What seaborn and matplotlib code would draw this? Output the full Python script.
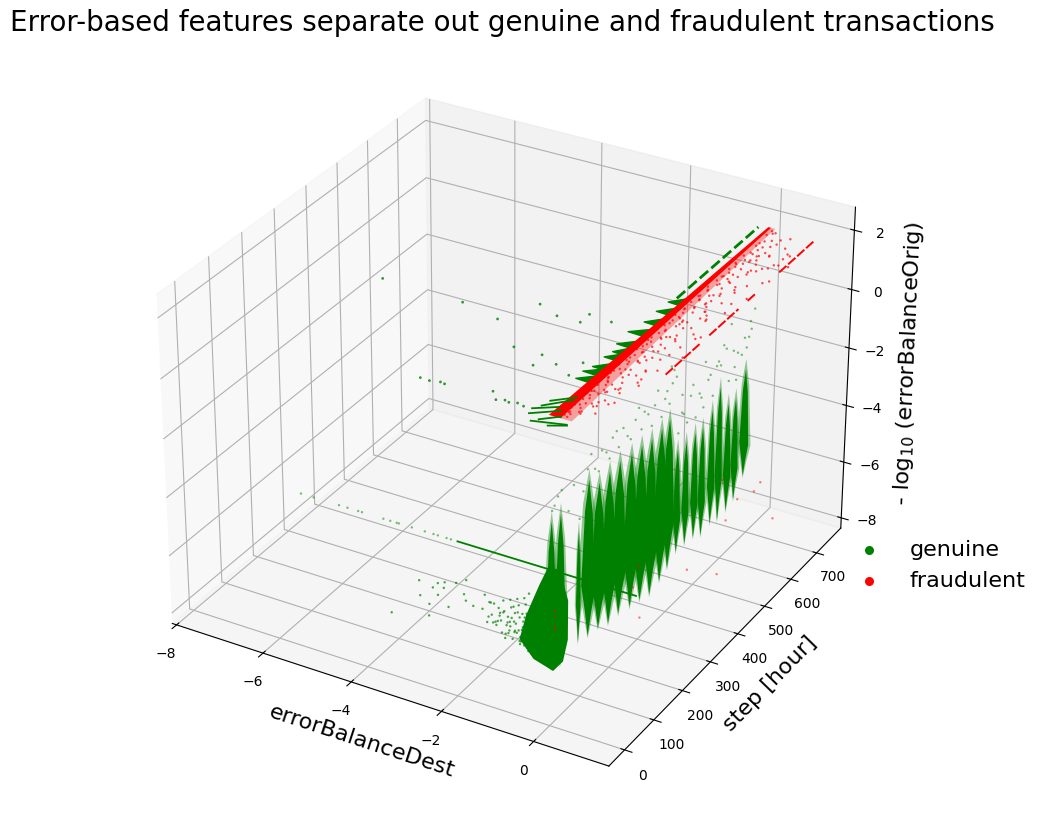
#=====IMPORT LIBRARIES=====
import matplotlib
matplotlib.use('Agg')
import matplotlib.pyplot as plt
from mpl_toolkits.mplot3d.art3d import Poly3DCollection
import seaborn as sns

#=====DATA=====
# daily spikes of genuine transactions
spike_steps = [11, 41, 101, 134, 169, 204, 239, 279, 314, 349, 384, 412, 443, 474, 506, 534, 568, 596, 628, 656, 691]
spike_low = [-6.56, -6.72, -6.54, -6.64, -6.7, -6.9, -6.9, -7.05, -7.15, -7.3, -7.15, -6.97, -6.7, -6.7, -6.77, -6.96, -6.85, -7.0, -6.95, -6.8, -6.28]
spike_mid = [-5.0, -5.1, -5.3, -5.0, -5.15, -5.25, -5.25, -5.35, -5.45, -5.6, -5.45, -5.3, -5.55, -5.55, -5.6, -5.75, -5.6, -5.5, -5.75, -5.65, -5.15]
spike_high = [-1.64, -1.65, -2.8, -1.39, -1.8, -1.75, -1.72, -1.82, -1.86, -1.95, -1.92, -1.84, -3.15, -3.17, -3.14, -3.2, -2.9, -2.36, -3.2, -3.26, -2.54]
spike_width = [0.11, 0.11, 0.05, 0.15, 0.16, 0.16, 0.16, 0.16, 0.16, 0.15, 0.15, 0.13, 0.08, 0.08, 0.08, 0.08, 0.08, 0.08, 0.08, 0.08, 0.1]
spike_x = -0.05

# outline of the wide foot of the first two spikes
foot_step = 15
foot_x = [-0.03, -0.45, -0.75, -0.61, -0.33, -0.14, 0.1, 0.28, 0.28, 0.18]
foot_z = [-6.66, -6.46, -5.93, -5.05, -3.9, -3.2, -3.2, -4.13, -5.44, -6.23]

# green tips above the spikes
tip_steps = [20, 31, 43, 12, 103, 129, 140, 166, 176, 202, 212, 233, 248, 274, 290, 311, 321, 347, 357, 381, 393, 409, 419, 424, 414, 443, 455, 474, 486, 505, 518, 533, 549, 567, 580, 595, 605, 626, 642, 654, 673, 691, 699, 704, 455, 538, 631, 66, 83, 115, 153, 191, 225, 263, 301, 334, 367, 400, 433, 461, 494, 525, 557, 587, 615, 647, 683, 708, 719, 658]
tip_z = [-1.2, -1.0, -0.9, -1.3, -2.4, -1.0, -0.6, -1.4, -0.8, -1.3, -0.7, -1.2, -0.7, -1.3, -0.8, -1.3, -0.8, -1.5, -0.9, -1.5, -1.0, -1.3, -0.7, -0.3, -0.1, -2.6, -2.0, -2.5, -1.7, -2.6, -1.9, -2.5, -1.7, -2.4, -1.5, -1.6, -1.0, -2.4, -1.5, -2.6, -1.9, -1.8, -1.5, -1.0, -1.4, -1.0, -0.5, -1.8, -1.1, -1.6, -1.2, -1.0, -0.6, -1.1, -0.5, -1.0, -0.5, -0.8, -0.6, -2.1, -1.4, -2.1, -1.6, -1.4, -1.2, -2.1, -1.4, -1.3, -0.7, -1.7]

# green cloud on the floor left of the first spike
cloud_x = [-1.35, -1.3, -1.25, -1.2, -1.15, -1.1, -1.05, -1.0, -0.95, -0.95, -0.9, -0.85, -0.85, -0.8, -0.75, -0.75, -0.7, -0.65, -0.65, -0.6, -0.55, -0.55, -0.5, -0.45, -0.45, -0.4, -0.35, -0.3, -1.55, -1.5, -1.45, -1.4, -1.1, -1.03, -0.87, -0.77, -0.67, -0.58, -0.43, -2.93, -2.91, -2.63, -2.52, -2.37, -2.12, -1.9, -2.52, -2.39, -1.95, -1.91, -1.75, -2.29, -2.71, -2.72, -3.55, -1.17, -0.97, -0.93, -0.83, -0.73, -0.63, -0.53, -0.47, -0.37, -0.33, -0.77, -0.69, -0.61, -0.51, -0.41, -1.27, -1.13, -1.01, -1.22, -1.08, -0.99, -0.92, -0.88, -0.81, -0.79, -0.72, -0.68, -0.62, -0.59, -0.54, -0.49, -0.46, -0.42, -0.38, -1.32, -1.18, -1.06, -0.96, -0.86, -0.74, -0.64, -0.56, -1.42, -1.37]
cloud_z = [-5.4, -5.0, -5.7, -5.1, -5.5, -4.8, -5.9, -5.3, -5.6, -4.7, -6.0, -5.1, -5.7, -4.6, -6.0, -5.2, -5.6, -4.5, -6.1, -5.0, -5.7, -4.3, -6.2, -5.1, -5.8, -4.4, -6.3, -5.4, -5.3, -4.8, -5.7, -5.0, -5.2, -5.6, -5.4, -4.8, -5.3, -5.9, -5.6, -5.0, -5.5, -5.1, -4.9, -4.8, -4.7, -4.5, -5.3, -5.0, -5.0, -5.2, -5.3, -5.6, -5.7, -6.1, -6.4, -5.25, -5.75, -4.95, -5.45, -5.85, -5.55, -5.95, -4.85, -6.05, -4.75, -5.65, -5.05, -5.8, -5.35, -6.15, -5.6, -5.9, -5.5, -5.55, -5.15, -5.85, -5.3, -4.9, -5.75, -5.05, -6.0, -5.5, -4.7, -6.15, -5.25, -5.95, -4.6, -5.6, -6.2, -5.65, -5.35, -6.05, -5.45, -5.75, -6.1, -5.15, -6.25, -5.5, -5.0]

# thin trail at a single step
trail_step = 310
trail_z = -7.0
trail_x = [-7.75, -7.45, -6.85, -6.65, -6.4, -6.31, -5.81, -5.65, -5.5, -5.45, -5.15, -4.85, -4.65, -4.55, -4.35, -4.25]
trail_from = -4.1
trail_to = -0.1

# green points near the top plane
upper_x = [-3.55, -2.65, -1.85, -2.25, -1.75, -1.25, -1.25, -0.75, -1.25, -1.2, -0.85, -0.45, -0.45, -2.75, -2.55, -2.35, -2.25, -5.35, -1.35, -1.15, -1.0, -0.9, -0.75, -0.6]
upper_steps = [252, 231, 163, 310, 289, 320, 289, 315, 163, 126, 147, 173, 126, 1, 0, 5, 3, 257, 21, 0, 6, 3, 8, 4]

# blobs beside the fraud band
blob_x = [-0.3, -0.32, -0.25, -0.24, -0.28, -0.32, -0.24, -0.24, -0.22, -0.2]
blob_steps = [124, 150, 171, 208, 256, 301, 343, 385, 423, 230]

# strokes at the start of the band
stroke_x0 = [-0.33, -0.39, -0.23, -0.28, -0.43, 0.12, -0.13]
stroke_x1 = [0.07, 0.07, 0.4, 0.07, -0.03, 0.42, 0.17]
stroke_s0 = [20, -11, -30, 40, 5, -30, -20]
stroke_s1 = [60, 21, -13, 70, 30, -15, 5]

# dashed green line
dash_x = -0.13
dash_from = 440
dash_to = 735

# fraud band on the plane of the top tick
fraud_x = 0.07
fraud_top = 1.9
step_start = 0
step_end = 743
second_line_x = 1.07
second_line_from = [205, 355, 491, 606]
second_line_to = [321, 458, 522, 735]

fraud_offset = [0.08, 0.12, 0.2, 0.15, 0.3, 0.1, 0.25, 0.18, 0.42, 0.35, 0.13, 0.22, 0.5, 0.09, 0.28, 0.16, 0.38, 0.6, 0.11, 0.24, 0.33, 0.19, 0.46, 0.14, 0.7, 0.1, 0.27, 0.55, 0.17, 0.36, 0.08, 0.21, 0.8, 0.12, 0.31, 0.44, 0.16, 0.65, 0.23, 0.09, 0.39, 0.13, 0.29, 0.52, 0.18, 0.75, 0.11, 0.26, 0.34, 0.15, 0.48, 0.2, 0.9, 0.1, 0.3, 0.58, 0.14, 0.41, 0.22, 0.08, 0.68, 0.17, 0.32, 0.12, 0.5, 0.25, 0.85, 0.1, 0.37, 0.19, 0.62, 0.13, 0.28, 0.45, 0.16, 0.95, 0.09, 0.35, 0.21, 0.55, 0.12, 0.72, 0.27, 0.15, 0.4, 0.18, 1.0, 0.11, 0.31, 0.6, 0.14, 0.24, 0.47, 0.2, 0.78, 0.1, 0.33, 0.16, 0.53, 0.23, 0.88, 0.12, 0.38, 0.66, 0.18, 0.29, 0.43, 0.09, 0.57, 0.21, 1.05, 0.13, 0.36, 0.74, 0.17, 0.26, 0.5, 0.11, 0.82, 0.3, 0.2, 0.14, 0.33, 0.1, 0.25, 0.43, 0.17, 0.12, 0.3, 0.52, 0.22, 0.15, 0.37, 0.11, 0.27, 0.61, 0.19, 0.13, 0.35, 0.24, 0.47, 0.16, 0.1, 0.29, 0.4, 0.21, 0.73, 0.14, 0.32, 0.18, 0.55, 0.12, 0.26, 0.44, 0.2, 0.11, 0.34, 0.15, 0.64, 0.23, 0.38, 0.13, 0.28, 0.5, 0.17, 0.1, 0.31, 0.86, 0.22, 0.41, 0.58, 0.47, 0.69, 0.36, 0.53, 0.77, 0.42, 0.63, 0.33, 0.49, 0.71, 0.39, 0.56, 0.84, 0.45, 0.31, 0.67, 0.51, 0.37, 0.79, 0.43, 0.59, 0.34, 0.92, 0.48, 0.65, 0.4, 0.54, 0.81, 0.44, 0.35, 0.62, 0.46, 0.7, 0.38, 0.97, 0.52, 0.32, 0.6, 0.41]
fraud_step = [5, 13, 19, 26, 32, 38, 44, 53, 58, 65, 71, 78, 84, 90, 97, 103, 110, 116, 122, 128, 134, 142, 147, 153, 160, 166, 173, 179, 185, 191, 197, 205, 210, 216, 223, 231, 237, 244, 250, 256, 263, 269, 275, 281, 289, 296, 302, 309, 315, 321, 328, 336, 342, 349, 355, 362, 370, 376, 382, 389, 395, 401, 410, 416, 422, 428, 435, 441, 449, 456, 462, 468, 475, 483, 489, 496, 502, 508, 515, 523, 529, 536, 542, 548, 557, 563, 569, 575, 584, 590, 596, 603, 611, 617, 624, 630, 638, 645, 651, 659, 666, 672, 680, 687, 693, 701, 710, 716, 722, 729, 630, 683, 641, 609, 725, 672, 588, 733, 651, 620, 9, 23, 35, 48, 61, 74, 87, 100, 113, 125, 138, 150, 163, 175, 188, 201, 213, 226, 240, 253, 266, 278, 292, 306, 318, 332, 345, 359, 373, 385, 398, 413, 425, 438, 453, 465, 480, 492, 505, 520, 532, 545, 560, 572, 587, 600, 614, 627, 642, 656, 40, 62, 85, 107, 130, 152, 175, 198, 220, 243, 265, 288, 310, 333, 355, 378, 400, 423, 445, 468, 490, 513, 535, 558, 580, 603, 625, 648, 670, 693, 28, 76, 124, 172, 218, 268, 316, 364, 412, 460]

# stray fraud points low down
stray_x = [0.0, 0.0, 0.0, 0.0, 0.8, 0.8, 0.8, 0.8, 0.8, 0.8, 0.8, 0.8, 0.8, 0.8, 0.8]
stray_steps = [15, 15, 15, 15, 453, 342, 150, 175, 171, 464, 523, 481, 610, 586, 663]
stray_z = [-4.62, -4.8, -5.15, -5.25, -7.17, -5.96, -4.73, -6.0, -4.23, -4.0, -5.2, -5.55, -5.4, -5.5, -7.16]

#=====STYLE=====
sns.reset_orig()
colours = sns.color_palette(['g', 'r'])


def spike(x, step, lo, mid, hi, w, c, alpha=1.0):
	# narrow ends with a wide belly, one daily spike
	up = mid + 0.7 * (hi - mid)
	dn = lo + 0.5 * (mid - lo)
	verts = [[(x, step, lo), (x + 0.45 * w, step, dn), (x + w, step, mid), (x + 0.55 * w, step, up), (x, step, hi),
		(x - 0.55 * w, step, up), (x - w, step, mid), (x - 0.45 * w, step, dn)]]
	ax.add_collection3d(Poly3DCollection(verts, facecolor=c, edgecolor='none', alpha=alpha))


#=====PLOT=====
fig = plt.figure(figsize=(10.43, 8.25), dpi=100)
ax = fig.add_axes([0.0215, 0.012, 0.92, 0.942], projection='3d', computed_zorder=False)

for s, lo, mi, hi, w in zip(spike_steps, spike_low, spike_mid, spike_high, spike_width):
	spike(spike_x, s, lo - 0.1, mi, hi + 0.35, w * 1.5, colours[0], alpha=0.4)
	spike(spike_x, s, lo, mi, hi, w, colours[0])
foot = [[(x, foot_step, z) for x, z in zip(foot_x, foot_z)]]
ax.add_collection3d(Poly3DCollection(foot, facecolor=colours[0], edgecolor='none'))

ax.scatter([spike_x] * len(tip_steps), tip_steps, tip_z, color=colours[0], s=3, alpha=0.5, linewidths=0)
ax.scatter(cloud_x, [15] * len(cloud_x), cloud_z, color=colours[0], s=3, alpha=0.7, linewidths=0)
ax.scatter(trail_x, [trail_step] * len(trail_x), [trail_z] * len(trail_x), color=colours[0], s=3, alpha=0.5, linewidths=0)
ax.plot([trail_from, trail_to], [trail_step, trail_step], [trail_z, trail_z], color=colours[0], lw=1.3)
ax.scatter(upper_x, upper_steps, [fraud_top] * len(upper_x), color=colours[0], s=4, alpha=0.8, linewidths=0)

for x0, s in zip(blob_x, blob_steps):
	verts = [[(x0, s, fraud_top), (fraud_x, s + 30, fraud_top), (fraud_x, s - 2, fraud_top)]]
	ax.add_collection3d(Poly3DCollection(verts, facecolor=colours[0], edgecolor=colours[0], lw=1))
for x0, x1, s0, s1 in zip(stroke_x0, stroke_x1, stroke_s0, stroke_s1):
	ax.plot([x0, x1], [s0, s1], [fraud_top, fraud_top], color=colours[0], lw=1.3)
ax.plot([dash_x, dash_x], [dash_from, dash_to], [fraud_top, fraud_top], color=colours[0], lw=2, ls=(0, (4, 1.5)))

band_fuzz = [[(fraud_x, step_start, fraud_top), (fraud_x + 0.35, step_start, fraud_top), (fraud_x + 0.12, step_end, fraud_top), (fraud_x, step_end, fraud_top)]]
ax.add_collection3d(Poly3DCollection(band_fuzz, facecolor=colours[1], edgecolor='none', alpha=0.35))
band = [[(fraud_x - 0.12, step_start, fraud_top), (fraud_x + 0.12, step_start, fraud_top), (fraud_x + 0.03, step_end, fraud_top), (fraud_x - 0.03, step_end, fraud_top)]]
ax.add_collection3d(Poly3DCollection(band, facecolor=colours[1], edgecolor='none'))
ax.scatter([fraud_x + o for o in fraud_offset], fraud_step, [fraud_top] * len(fraud_step), color=colours[1], s=3, alpha=0.7, linewidths=0)
for a, b in zip(second_line_from, second_line_to):
	ax.plot([second_line_x, second_line_x], [a, b], [fraud_top, fraud_top], color=colours[1], lw=1.4, ls=(0, (5, 1.2)))
ax.scatter(stray_x, stray_steps, stray_z, color=colours[1], s=3, alpha=0.5, linewidths=0)

# handles for the legend only
ax.scatter([], [], [], color=colours[0], s=30, label='genuine')
ax.scatter([], [], [], color=colours[1], s=30, label='fraudulent')

ax.set_xlim(-8.1, 1.6)
ax.set_ylim(-53, 796)
ax.set_zlim(-8.37, 2.77)
ax.set_xticks([-8, -6, -4, -2, 0])
ax.set_yticks([0, 100, 200, 300, 400, 500, 600, 700])
ax.set_zticks([-8, -6, -4, -2, 0, 2])
ax.set_xlabel('errorBalanceDest', size=16, labelpad=4)
ax.set_ylabel('step [hour]', size=16, labelpad=6)
ax.set_zlabel('- log$_{10}$ (errorBalanceOrig)', size=16, labelpad=6)

ax.legend(loc='lower left', bbox_to_anchor=(0.8015, 0.27), bbox_transform=fig.transFigure, frameon=False, fontsize=16, borderpad=0)
fig.text(0.482, 0.972, 'Error-based features separate out genuine and fraudulent transactions', size=20, ha='center', va='center')

fig.savefig('out.png', dpi=100)
